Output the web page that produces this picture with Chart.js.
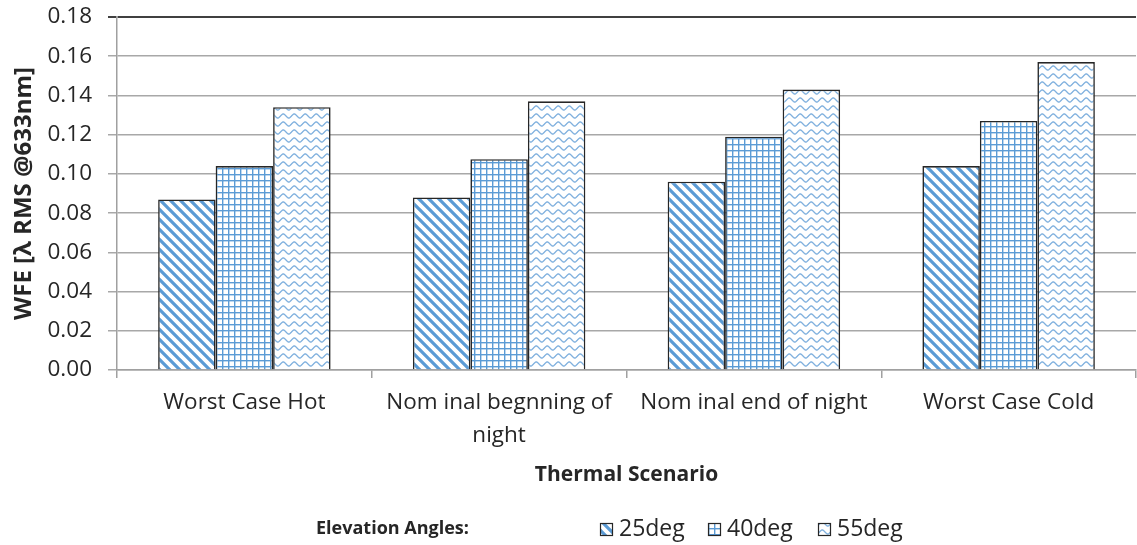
<!DOCTYPE html>
<html>
<head>
<meta charset="utf-8">
<script src="https://cdn.jsdelivr.net/npm/chart.js@4.4.0/dist/chart.umd.min.js"></script>
<style>
html,body{margin:0;padding:0;background:#fff;}
#wrap{width:1137px;height:545px;position:relative;}
</style>
</head>
<body>
<div id="wrap"><canvas id="c" width="1137" height="545"></canvas></div>
<script>
const categories = ['Worst Case Hot', ['Nom inal begnning of', 'night'], 'Nom inal end of night', 'Worst Case Cold'];
const seriesNames = ['25deg', '40deg', '55deg'];
const values25 = [0.087, 0.088, 0.096, 0.104];
const values40 = [0.104, 0.1075, 0.119, 0.127];
const values55 = [0.134, 0.137, 0.143, 0.157];
const yTicks = [0, 0.02, 0.04, 0.06, 0.08, 0.10, 0.12, 0.14, 0.16, 0.18];
const yTitle = 'WFE [\u03BB RMS @633nm]';
const xTitle = 'Thermal Scenario';
const legendTitle = 'Elevation Angles:';

const FONT = '"Open Sans", "DejaVu Sans", sans-serif';
const BLUE = '#5B9BD5';
const WAVE = '#7FB0DE';

const canvas = document.getElementById('c');
const ctx = canvas.getContext('2d');

function makeTile(w, h, draw) {
  const c = document.createElement('canvas');
  c.width = w; c.height = h;
  const x = c.getContext('2d');
  x.fillStyle = '#fff'; x.fillRect(0, 0, w, h);
  draw(x, w, h);
  return ctx.createPattern(c, 'repeat');
}
const stripePat = makeTile(10, 10, (x, w, h) => {
  x.strokeStyle = BLUE; x.lineWidth = 3.2; x.lineCap = 'square';
  x.beginPath();
  for (const o of [-w, 0, w]) { x.moveTo(o - 1, -1); x.lineTo(o + w + 1, h + 1); }
  x.stroke();
});
const gridPat = makeTile(6, 6, (x, w, h) => {
  x.fillStyle = BLUE;
  x.fillRect(0, 0, w, 1.4);
  x.fillRect(0, 0, 1.4, h);
});
const wavePat = makeTile(11, 8, (x, w, h) => {
  x.strokeStyle = WAVE; x.lineWidth = 1.3;
  x.beginPath();
  for (let i = -1; i <= w + 1; i += 0.5) {
    const y = 4 + 2 * Math.sin(2 * Math.PI * i / w);
    if (i === -1) x.moveTo(i, y); else x.lineTo(i, y);
  }
  x.stroke();
});
const patterns = [stripePat, gridPat, wavePat];

const legendPlugin = {
  id: 'customLegend',
  afterDraw(chart) {
    const c = chart.ctx;
    c.save();
    c.textBaseline = 'middle';
    c.fillStyle = '#262626';
    c.font = 'bold 18px ' + FONT;
    c.textAlign = 'left';
    const ly = 529;
    c.fillText(legendTitle, 316, ly);
    const xs = [600, 708, 818];
    c.font = '23px ' + FONT;
    seriesNames.forEach((name, i) => {
      const sx = xs[i];
      c.fillStyle = patterns[i];
      c.fillRect(sx, ly - 6, 13, 13);
      c.strokeStyle = '#262626'; c.lineWidth = 1.2;
      c.strokeRect(sx + 0.5, ly - 6 + 0.5, 12, 12);
      c.fillStyle = '#262626';
      c.fillText(name, sx + 19, ly);
    });
    c.restore();
  }
};

const datasets = [values25, values40, values55].map((vals, i) => ({
  label: seriesNames[i],
  data: vals,
  backgroundColor: patterns[i],
  borderColor: '#262626',
  borderWidth: 1.6,
  borderSkipped: 'bottom',
  categoryPercentage: 0.677,
  barPercentage: 1.0
}));

new Chart(ctx, {
  type: 'bar',
  data: { labels: categories, datasets },
  options: {
    responsive: false,
    animation: false,
    devicePixelRatio: 1,
    layout: { padding: { left: 0, right: 1, top: 17, bottom: 45 } },
    plugins: { legend: { display: false }, tooltip: { enabled: false } },
    scales: {
      x: {
        grid: { drawOnChartArea: false, offset: true, tickLength: 8, color: '#A0A0A0', lineWidth: 1.5 },
        border: { color: '#A0A0A0', width: 1.5 },
        ticks: { color: '#262626', font: { family: FONT, size: 22.5, lineHeight: 1.47 }, padding: 8, maxRotation: 0, autoSkip: false },
        title: { display: true, text: xTitle, color: '#262626', font: { family: FONT, size: 21, weight: 'bold', lineHeight: 1.2 }, padding: { top: 4, bottom: 12 } },
        afterFit(scale) { scale.height = 130; }
      },
      y: {
        min: 0, max: 0.18,
        afterBuildTicks(scale) { scale.ticks = yTicks.map(v => ({ value: v })); },
        grid: {
          color: (c) => (c.tick && Math.abs(c.tick.value - 0.18) < 1e-9) ? '#404040' : '#A8A8A8',
          lineWidth: (c) => (c.tick && Math.abs(c.tick.value - 0.18) < 1e-9) ? 2 : 1.5,
          tickLength: 9
        },
        border: { color: '#A0A0A0', width: 1.5 },
        ticks: { color: '#262626', font: { family: FONT, size: 22.5 }, padding: 16, callback: (v) => Number(v).toFixed(2) },
        title: { display: true, text: yTitle, color: '#262626', font: { family: FONT, size: 24, weight: 'bold', lineHeight: 1.2 }, padding: { top: 10, bottom: 4 } },
        afterFit(scale) { scale.width = 117; scale.paddingTop = 0; scale.paddingBottom = 0; }
      }
    }
  },
  plugins: [legendPlugin]
});
</script>
</body>
</html>
